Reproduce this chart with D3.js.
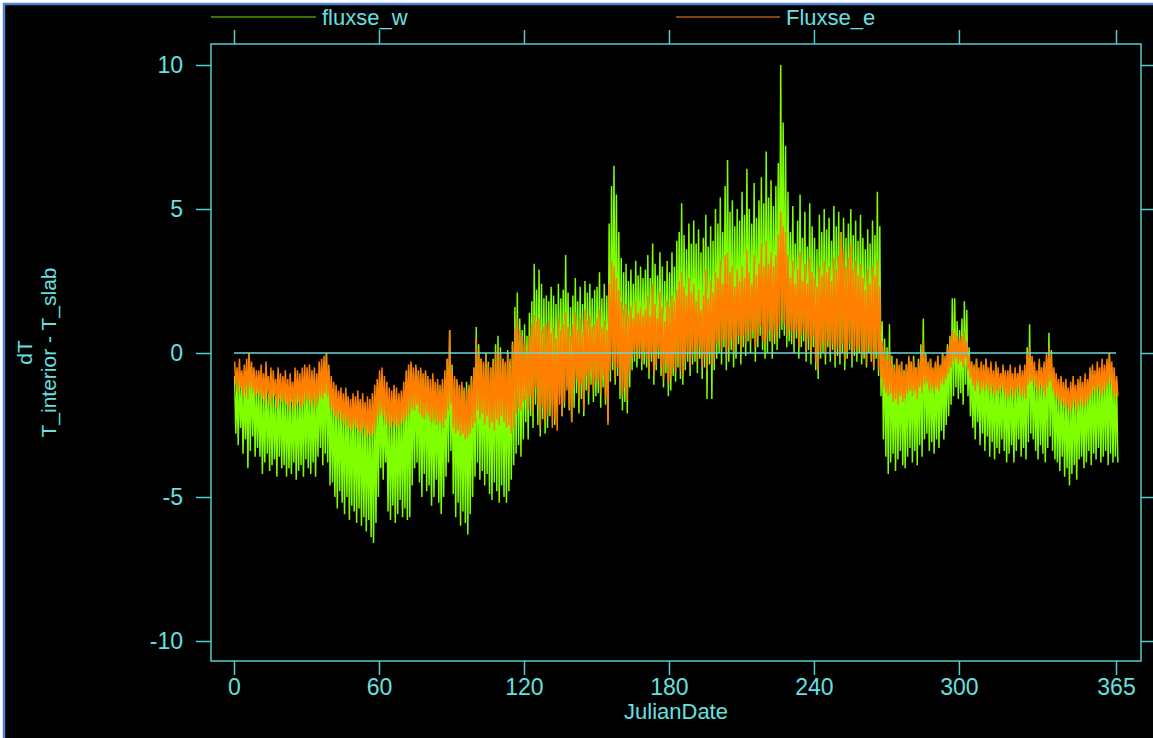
<!DOCTYPE html>
<html>
<head>
<meta charset="utf-8">
<script src="https://cdn.jsdelivr.net/npm/d3@7"></script>
<style>
html,body{margin:0;padding:0;background:#ffffff;overflow:hidden;}
svg{display:block;}
</style>
</head>
<body>
<svg id="chart" width="1153" height="738"></svg>
<script>
// ---- data (daily envelope, day 0..365) ----
const seriesNames = ["fluxse_w", "Fluxse_e"];
const xTicks = [0, 60, 120, 180, 240, 300, 365];
const yTicks = [-10, -5, 0, 5, 10];

const wHi = [
-0.8,-1.0,-0.7,-1.1,-0.9,-0.6,0.0,-0.5,-0.8,-1.0,
-1.2,-1.0,-1.3,-0.9,-1.4,-1.1,-1.2,-1.5,-1.0,-1.3,
-1.4,-1.2,-1.5,-1.3,-1.6,-1.1,-1.3,-1.4,-1.2,-1.0,
-1.1,-0.9,-1.3,-1.0,-1.2,-0.8,-0.5,-0.3,0.0,-0.6,
-1.2,-1.5,-1.3,-1.6,-1.4,-1.8,-1.5,-1.7,-1.9,-1.6,
-1.8,-2.0,-1.7,-2.2,-1.9,-2.1,-2.3,-2.0,-1.5,-1.2,
-1.0,-1.4,-1.7,-2.0,-1.8,-2.1,-1.9,-1.6,-2.0,-1.7,
-1.5,-1.0,-0.6,-0.4,-0.7,-0.5,-0.8,-0.6,-0.9,-0.7,
-1.0,-1.2,-0.9,-1.3,-1.1,-1.4,-1.2,-0.9,-0.2,0.8,
-0.4,-0.9,-1.0,-1.2,-1.1,-1.3,-1.0,-1.2,-0.8,-0.5,
0.9,0.3,-0.2,-0.4,0.0,-0.3,-0.5,-0.2,0.3,0.6,
0.2,-0.2,-0.4,0.1,-0.3,0.4,1.6,2.1,1.2,0.8,
1.0,0.6,1.4,1.8,3.1,2.2,2.9,2.4,1.9,2.0,
1.8,2.3,2.0,1.7,2.4,1.9,2.2,3.4,2.1,1.6,
2.0,2.6,1.8,2.3,1.7,2.5,2.1,2.4,1.9,2.2,
2.3,2.8,1.9,2.4,2.0,4.5,5.8,6.5,5.5,4.2,
3.3,2.8,3.1,2.5,2.9,2.4,3.2,2.7,3.0,2.6,
2.9,3.4,2.6,3.8,3.1,2.7,3.5,3.0,2.5,3.2,
2.8,3.5,3.0,3.9,4.2,5.2,4.1,3.6,4.5,3.8,
4.6,3.8,4.3,3.5,4.0,4.8,3.7,4.4,3.9,5.0,
4.5,5.4,4.2,5.8,6.7,4.9,5.3,4.4,5.0,4.6,
5.6,4.8,6.4,5.0,4.5,5.9,4.7,5.3,6.1,5.2,
7.0,5.4,6.0,5.1,5.8,6.6,10.0,8.0,7.2,5.6,
4.2,5.1,3.8,4.6,5.5,4.0,4.9,3.7,5.2,4.4,
4.0,3.6,4.8,4.2,5.0,4.3,4.7,3.9,5.1,4.4,
4.9,4.2,4.7,4.0,4.5,5.0,4.1,4.6,3.9,4.8,
4.0,3.6,4.3,3.8,4.6,4.1,5.6,4.4,1.1,0.5,
0.2,1.0,-0.1,-0.4,-0.2,-0.5,-0.3,-0.6,-0.4,-0.2,
-0.3,-0.1,-0.5,-0.2,0.3,1.2,0.0,-0.4,-0.2,-0.6,
-0.4,-0.1,-0.5,0.0,-0.2,0.3,0.6,1.9,1.9,1.1,
0.8,1.2,1.8,1.5,0.2,-0.3,-0.5,-0.2,-0.7,-0.4,
-0.6,-0.2,-0.8,-0.5,-0.9,-0.4,-0.7,-1.0,-0.6,-0.8,
-0.9,-0.6,-1.1,-0.7,-1.0,-0.5,-0.8,-0.6,0.2,1.0,
-0.3,-0.6,-0.9,-0.4,-0.8,-0.5,-0.2,0.7,0.1,-0.6,
-1.0,-1.3,-1.1,-1.4,-1.2,-1.5,-1.3,-1.1,-1.4,-1.2,
-1.0,-1.3,-0.9,-1.2,-0.8,-0.6,-1.0,-0.7,-0.9,-0.5,
-0.7,-0.4,0.0,-0.5,-0.8,-1.0
];
const wLo = [
-2.8,-3.2,-2.6,-3.5,-3.0,-4.0,-3.4,-2.9,-3.6,-3.3,
-3.6,-4.2,-3.8,-3.5,-4.1,-3.9,-3.7,-4.3,-3.6,-4.0,
-3.9,-4.3,-4.0,-4.2,-3.8,-4.4,-4.1,-3.9,-4.3,-3.7,
-4.0,-4.2,-3.8,-4.3,-3.6,-3.3,-3.9,-3.5,-3.8,-4.6,
-4.5,-5.0,-5.4,-4.8,-5.2,-5.6,-5.0,-5.8,-5.3,-5.5,
-5.9,-5.4,-6.0,-5.7,-6.2,-5.8,-6.4,-6.6,-5.9,-5.0,
-4.0,-4.4,-3.8,-5.5,-5.8,-5.3,-5.9,-5.6,-5.1,-5.7,
-5.4,-5.8,-5.7,-4.6,-4.0,-3.8,-4.5,-5.0,-4.2,-4.8,
-4.6,-5.3,-5.0,-4.4,-5.2,-5.6,-5.0,-4.3,-3.8,-3.4,
-4.9,-5.7,-5.2,-6.0,-5.5,-5.9,-6.3,-5.6,-5.0,-4.3,
-3.8,-4.4,-4.1,-4.6,-4.2,-4.9,-5.1,-4.5,-4.8,-5.2,
-4.6,-5.0,-5.2,-4.8,-4.4,-3.9,-3.5,-3.2,-3.6,-3.0,
-2.4,-3.0,-2.2,-2.6,-1.8,-2.5,-2.9,-2.3,-2.8,-2.6,
-2.2,-1.8,-2.5,-2.0,-1.5,-2.2,-1.9,-1.2,-2.0,-2.4,
-1.9,-1.4,-2.1,-1.6,-2.2,-1.3,-1.8,-1.1,-1.7,-1.5,
-1.4,-1.9,-1.2,-1.8,-2.4,-1.0,-0.6,-1.1,-0.8,-1.6,
-2.0,-1.7,-2.1,-1.2,-0.6,-0.3,-0.5,-0.2,-0.6,-0.4,
-0.5,-0.9,-0.3,-1.1,-0.6,-0.2,-0.8,-1.2,-0.7,-1.5,
-1.3,-0.8,-1.0,-0.5,-0.9,-1.1,-0.6,-0.3,-0.8,-0.4,
-0.3,-0.7,-0.2,-0.9,-0.5,-1.6,-0.4,-1.6,-0.6,-0.2,
0.0,-0.4,0.2,-0.6,-0.3,0.1,-0.5,-0.2,0.3,-0.4,
0.2,-0.1,0.4,0.0,0.5,-0.3,0.2,0.6,0.1,-0.2,
0.0,0.4,-0.2,0.3,0.1,0.5,0.8,0.6,0.2,0.4,
0.3,0.0,0.5,-0.2,0.2,0.4,-0.3,0.1,-0.4,0.2,
-0.6,-0.9,-0.2,0.0,-0.4,0.2,-0.3,0.1,-0.5,-0.1,
-0.4,0.0,-0.6,-0.2,0.1,-0.5,-0.1,-0.3,0.0,-0.4,
-0.2,-0.5,0.0,-0.3,-0.6,-0.2,-0.8,-1.5,-3.0,-3.6,
-4.2,-3.8,-3.5,-4.1,-3.7,-3.4,-3.9,-4.0,-3.6,-3.3,
-3.8,-3.4,-3.9,-3.2,-3.6,-3.0,-2.8,-3.4,-3.1,-3.5,
-3.0,-3.3,-2.7,-3.0,-2.5,-2.2,-1.8,-1.5,-1.2,-1.6,
-1.4,-1.8,-1.1,-1.5,-2.2,-2.6,-3.0,-2.4,-3.2,-2.8,
-3.4,-2.9,-3.6,-3.1,-3.7,-3.3,-3.5,-3.0,-3.4,-3.8,
-3.5,-3.2,-3.8,-3.4,-3.0,-3.6,-3.3,-3.7,-3.1,-2.8,
-3.0,-3.4,-3.7,-3.2,-3.5,-3.8,-3.3,-2.9,-3.4,-3.7,
-3.8,-4.1,-3.6,-4.3,-4.0,-4.6,-4.2,-3.9,-4.4,-3.7,
-3.6,-4.0,-3.8,-3.4,-3.9,-3.5,-3.7,-3.3,-3.8,-3.6,
-3.4,-3.9,-3.5,-3.8,-3.6,-3.8
];
const eHi = [
-0.3,-0.5,-0.2,-0.6,-0.4,-0.2,0.0,-0.3,-0.5,-0.6,
-0.6,-0.4,-0.7,-0.3,-0.8,-0.5,-0.6,-0.9,-0.5,-0.7,
-0.8,-0.6,-0.9,-0.7,-1.0,-0.5,-0.6,-0.7,-0.5,-0.4,
-0.5,-0.4,-0.6,-0.5,-0.7,-0.3,-0.2,-0.1,0.0,-0.4,
-0.8,-1.0,-1.1,-1.3,-1.2,-1.4,-1.2,-1.5,-1.6,-1.4,
-1.5,-1.3,-1.6,-1.4,-1.7,-1.5,-1.6,-1.4,-1.1,-0.9,
-0.6,-0.5,-0.8,-1.0,-1.2,-1.3,-1.1,-1.2,-1.4,-1.3,
-1.0,-0.6,-0.4,-0.3,-0.5,-0.4,-0.6,-0.5,-0.7,-0.6,
-0.8,-0.9,-0.7,-1.0,-0.9,-1.1,-0.9,-0.6,-0.2,0.8,
-0.6,-0.8,-0.9,-1.1,-1.0,-1.2,-1.3,-1.1,-0.9,-0.5,
0.5,0.1,-0.2,-0.3,-0.1,-0.4,-0.5,-0.3,0.0,0.2,
0.0,-0.2,-0.3,0.0,-0.2,0.3,0.9,1.2,0.8,0.6,
0.4,0.1,0.6,1.0,1.3,1.1,1.2,0.8,0.9,1.0,
1.1,0.7,0.9,0.5,1.2,0.8,1.0,1.4,0.9,0.6,
1.0,1.4,0.8,1.2,0.7,1.5,1.1,1.3,0.9,1.0,
1.2,1.5,0.9,1.1,0.8,2.4,3.2,3.0,2.6,2.2,
1.8,1.5,1.7,1.3,1.6,1.2,1.8,1.4,1.6,1.3,
1.5,2.0,1.3,2.4,1.7,1.2,2.1,1.6,1.1,1.8,
1.6,2.0,1.8,2.2,2.5,2.8,2.3,2.0,2.6,2.1,
2.4,1.8,2.2,1.5,2.0,2.9,1.9,2.5,2.1,2.8,
2.6,3.2,2.4,3.4,3.5,2.8,3.0,2.3,2.9,2.5,
3.0,2.6,3.6,2.8,2.4,3.4,2.7,3.1,3.8,3.0,
3.9,3.1,3.5,3.0,3.4,4.1,4.9,4.4,4.2,3.4,
2.6,3.2,2.4,2.9,3.5,2.5,3.1,2.4,3.3,2.8,
2.6,2.3,3.0,2.7,3.2,2.8,3.0,2.5,3.3,2.9,
3.4,4.2,3.6,3.0,3.3,3.8,2.9,3.2,2.7,3.1,
2.6,2.2,2.9,2.4,3.0,2.7,3.2,2.3,0.4,0.1,
-0.2,0.1,-0.3,-0.5,-0.2,-0.4,-0.3,-0.6,-0.4,-0.1,
-0.3,-0.2,-0.5,-0.3,0.0,0.4,-0.1,-0.3,-0.2,-0.5,
-0.3,-0.1,-0.4,0.0,-0.1,0.2,0.5,0.8,0.7,0.6,
0.5,0.6,0.7,0.4,-0.1,-0.3,-0.4,-0.2,-0.5,-0.3,
-0.4,-0.2,-0.5,-0.3,-0.6,-0.3,-0.5,-0.7,-0.4,-0.6,
-0.6,-0.4,-0.7,-0.5,-0.7,-0.4,-0.6,-0.4,0.0,0.2,
-0.1,-0.3,-0.6,-0.2,-0.5,-0.3,0.0,0.2,-0.1,-0.5,
-0.7,-0.9,-0.8,-1.0,-0.9,-1.2,-1.0,-0.8,-1.1,-0.9,
-0.8,-1.0,-0.7,-0.9,-0.5,-0.4,-0.6,-0.3,-0.5,-0.2,
-0.4,-0.2,0.0,-0.3,-0.5,-0.8
];
const eLo = [
-1.1,-1.4,-1.2,-1.5,-1.3,-1.6,-1.2,-1.3,-1.5,-1.4,
-1.5,-1.6,-1.7,-1.4,-1.8,-1.6,-1.5,-1.9,-1.6,-1.7,
-1.7,-1.8,-1.9,-1.7,-2.0,-1.8,-1.7,-1.9,-1.8,-1.6,
-1.7,-1.8,-1.6,-1.9,-1.7,-1.5,-1.6,-1.4,-1.5,-1.9,
-2.0,-2.2,-2.3,-2.1,-2.4,-2.5,-2.3,-2.6,-2.7,-2.5,
-2.6,-2.7,-2.8,-2.6,-2.9,-2.8,-2.9,-2.8,-2.5,-2.2,
-2.0,-2.2,-2.4,-2.5,-2.6,-2.4,-2.5,-2.6,-2.5,-2.4,
-2.3,-2.2,-2.1,-1.9,-2.0,-1.8,-2.1,-2.2,-2.3,-2.1,
-2.2,-2.4,-2.3,-2.5,-2.4,-2.4,-2.6,-2.3,-2.0,-1.8,
-2.6,-2.8,-2.7,-2.9,-2.8,-3.0,-2.9,-2.8,-2.6,-2.4,
-2.0,-2.3,-2.1,-2.5,-2.2,-2.6,-2.4,-2.7,-2.3,-2.5,
-2.2,-2.4,-2.6,-2.5,-2.8,-2.6,-2.1,-1.9,-2.0,-1.7,
-1.6,-2.0,-1.5,-2.1,-1.2,-1.8,-2.6,-1.9,-2.4,-2.2,
-2.0,-2.6,-2.3,-2.7,-1.8,-2.2,-1.7,-1.3,-1.9,-2.4,
-1.2,-0.9,-1.6,-1.1,-2.0,-0.8,-1.4,-0.7,-1.3,-1.0,
-1.0,-1.4,-0.8,-1.6,-2.5,-0.6,-0.3,-0.9,-0.5,-1.2,
-1.5,-1.2,-1.6,-0.7,-0.2,0.0,-0.2,0.1,-0.3,0.0,
-0.2,-0.6,0.0,-0.8,-0.4,0.1,-0.5,-0.9,-0.4,-1.1,
-0.9,-0.5,-0.7,-0.2,-0.6,-0.8,-0.3,0.0,-0.5,-0.1,
0.1,-0.3,0.2,-0.5,-0.1,-0.6,0.0,-0.4,-0.2,0.3,
0.4,0.1,0.5,-0.2,0.2,0.5,0.0,0.3,0.6,0.1,
0.6,0.3,0.7,0.4,0.8,0.2,0.5,0.9,0.4,0.3,
0.5,0.8,0.3,0.7,0.5,0.9,1.2,1.0,0.6,0.8,
0.7,0.4,0.8,0.2,0.6,0.8,0.1,0.5,0.0,0.6,
-0.3,-0.6,0.1,0.3,-0.1,0.4,0.0,0.3,-0.2,0.2,
-0.1,0.3,-0.3,0.0,0.3,-0.2,0.1,0.0,0.2,-0.1,
0.0,-0.4,0.2,-0.2,-0.5,0.0,-0.6,-0.9,-1.2,-1.4,
-1.5,-1.4,-1.7,-1.6,-1.8,-1.5,-1.7,-1.6,-1.4,-1.3,
-1.5,-1.3,-1.6,-1.2,-1.4,-1.1,-1.0,-1.3,-1.2,-1.4,
-1.2,-1.3,-1.0,-1.1,-0.9,-0.7,-0.5,-0.3,-0.2,-0.4,
-0.3,-0.5,-0.2,-0.6,-0.9,-1.1,-1.3,-1.0,-1.4,-1.2,
-1.3,-1.1,-1.4,-1.2,-1.5,-1.3,-1.4,-1.2,-1.4,-1.6,
-1.5,-1.3,-1.6,-1.4,-1.2,-1.5,-1.4,-1.6,-1.1,-1.0,
-1.0,-1.2,-1.4,-1.1,-1.3,-1.5,-1.2,-1.0,-1.3,-1.5,
-1.6,-1.8,-1.7,-1.9,-1.8,-2.1,-1.9,-1.7,-2.0,-1.8,
-1.7,-1.9,-1.8,-1.6,-1.5,-1.3,-1.4,-1.2,-1.5,-1.3,
-1.3,-1.1,-1.0,-1.4,-1.6,-1.5
];

// ---- drawing ----
const W = 1153, H = 738;
const box = {left: 211, right: 1141, top: 44, bottom: 661};
const axisColor = "#55cccc";
const textColor = "#66e0e0";
const colors = ["#7fff00", "#ff8000"];
const legendColors = ["#4f9a00", "#b05a10"];
const font = "'Liberation Sans', Arial, sans-serif";

const svg = d3.select("#chart");
svg.append("rect").attr("x", 0).attr("y", 0).attr("width", W).attr("height", H).attr("fill", "#ffffff");
svg.append("rect").attr("x", 3).attr("y", 3).attr("width", W - 3).attr("height", H - 3).attr("fill", "#000000");
svg.append("path").attr("d", `M4,${H} L4,4 L${W},4`).attr("fill", "none")
  .attr("stroke", "#4e82cf").attr("stroke-width", 2.5);

// day 0 -> 234, day 365 -> 1116
const x = d3.scaleLinear().domain([0, 365]).range([234, 1116]);
const y = d3.scaleLinear().domain([-10, 10]).range([641, 65]);

function zigzag(hi, lo) {
  const pts = [];
  for (let d = 0; d < hi.length; d++) {
    pts.push([d + 0.25, hi[d]]);
    pts.push([d + 0.75, lo[d]]);
  }
  return pts;
}
const line = d3.line().x(p => x(p[0])).y(p => y(p[1]));

const dataG = svg.append("g");
dataG.append("path").datum(zigzag(wHi, wLo)).attr("d", line)
  .attr("fill", "none").attr("stroke", colors[0]).attr("stroke-width", 1.5)
  .attr("stroke-linejoin", "miter").attr("stroke-miterlimit", 1.5);
dataG.append("path").datum(zigzag(eHi, eLo)).attr("d", line)
  .attr("fill", "none").attr("stroke", colors[1]).attr("stroke-width", 1.5)
  .attr("stroke-linejoin", "miter").attr("stroke-miterlimit", 1.5);

// zero reference line
svg.append("line").attr("x1", x(0)).attr("x2", x(365)).attr("y1", y(0)).attr("y2", y(0))
  .attr("stroke", "#66d8d8").attr("stroke-width", 1.3);

// frame
svg.append("rect").attr("x", box.left).attr("y", box.top)
  .attr("width", box.right - box.left).attr("height", box.bottom - box.top)
  .attr("fill", "none").attr("stroke", axisColor).attr("stroke-width", 1.5);

function styleAxis(g) {
  g.select(".domain").remove();
  g.selectAll(".tick line").attr("stroke", axisColor).attr("stroke-width", 1.5);
  g.selectAll(".tick text").attr("fill", textColor).attr("font-family", font).attr("font-size", 23);
}
const fmt = d => String(d);

svg.append("g").attr("transform", `translate(0,${box.bottom})`)
  .call(d3.axisBottom(x).tickValues(xTicks).tickFormat(fmt).tickSize(14).tickPadding(4))
  .call(styleAxis);
svg.append("g").attr("transform", `translate(0,${box.top})`)
  .call(d3.axisTop(x).tickValues(xTicks).tickFormat("").tickSize(14))
  .call(styleAxis);
svg.append("g").attr("transform", `translate(${box.left},0)`)
  .call(d3.axisLeft(y).tickValues(yTicks).tickFormat(fmt).tickSize(15).tickPadding(13))
  .call(styleAxis);
svg.append("g").attr("transform", `translate(${box.right},0)`)
  .call(d3.axisRight(y).tickValues(yTicks).tickFormat("").tickSize(14))
  .call(styleAxis);

// axis titles
svg.append("text").attr("x", (box.left + box.right) / 2).attr("y", 719)
  .attr("text-anchor", "middle").attr("fill", textColor).attr("font-family", font)
  .attr("font-size", 22).text("JulianDate");
const yt = svg.append("text").attr("transform", `translate(0,${(box.top + box.bottom) / 2}) rotate(-90)`)
  .attr("text-anchor", "middle").attr("fill", textColor).attr("font-family", font).attr("font-size", 21);
yt.append("tspan").attr("x", 0).attr("y", 32).text("dT");
yt.append("tspan").attr("x", 0).attr("y", 56).text("T_interior - T_slab");

// legend
const legendItems = [{x1: 211, x2: 316}, {x1: 676, x2: 780}];
legendItems.forEach((it, i) => {
  svg.append("line").attr("x1", it.x1).attr("x2", it.x2).attr("y1", 17).attr("y2", 17)
    .attr("stroke", legendColors[i]).attr("stroke-width", 1.5);
  svg.append("text").attr("x", it.x2 + 6).attr("y", 25).attr("fill", textColor)
    .attr("font-family", font).attr("font-size", 22).text(seriesNames[i]);
});
</script>
</body>
</html>
